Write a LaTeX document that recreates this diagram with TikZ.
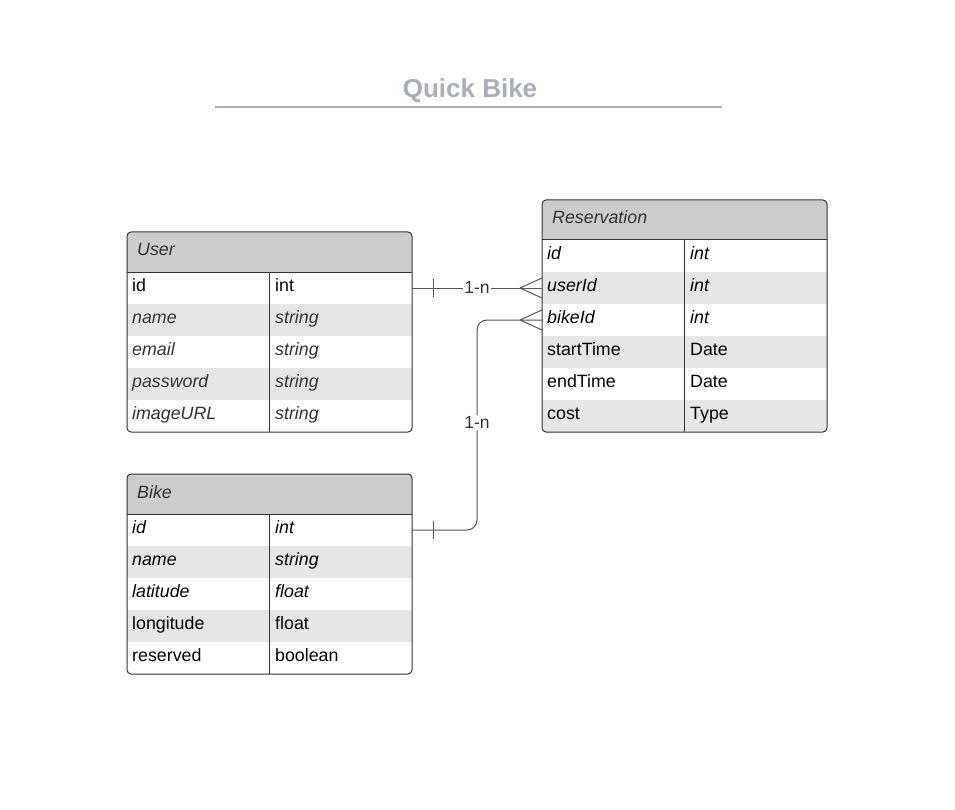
\documentclass[tikz,border=0pt]{standalone}
\usepackage{fontspec}
\setmainfont{Liberation Sans}
\usetikzlibrary{positioning}

\definecolor{headgray}{HTML}{CCCCCC}
\definecolor{rowgray}{HTML}{E6E6E6}
\definecolor{titlegray}{HTML}{A9AEB8}
\definecolor{softtext}{HTML}{333333}
\definecolor{wiregray}{HTML}{555555}

\tikzset{
	head/.style={minimum width=285pt, minimum height=40pt, inner sep=0pt, outer sep=0pt, fill=headgray},
	row/.style={minimum width=285pt, minimum height=32pt, inner sep=0pt, outer sep=0pt},
	field/.style={anchor=base west, inner sep=0pt, font=\fontsize{17.8}{20}\selectfont},
	plain/.style={text=black},
	ital/.style={text=black, font=\fontsize{17.8}{20}\selectfont\itshape},
	soft/.style={text=softtext, font=\fontsize{17.8}{20}\selectfont\itshape},
	entitytitle/.style={field, soft},
	border/.style={draw=softtext, line width=1pt},
	wire/.style={draw=wiregray, line width=1pt},
	card/.style={fill=white, inner sep=1.5pt, text=softtext, font=\fontsize{17.5}{20}\selectfont},
	maintitle/.style={anchor=base, inner sep=0pt, text=titlegray, font=\fontsize{26}{30}\selectfont\bfseries}
}

% name, x, y, title, rows (field/type/style/fill), number of rows
\newcommand{\erentity}[6]{%
	\begin{scope}
		\clip[rounded corners=4pt] (#2,#3) rectangle ++(285,40+32*#6);
		\node[head, anchor=north west] (#1) at (#2,#3) {};
		\foreach \f/\t/\s/\c [count=\i] in {#5} {
			\node[row, fill=\c, anchor=north west] (#1-\i) at (#2,#3+8+32*\i) {};
			\node[field, \s] (#1-\i-f) at (#2+5,#3+27+32*\i) {\f};
			\node[field, \s] (#1-\i-t) at (#2+148,#3+27+32*\i) {\t};
		}
	\end{scope}
	\node[entitytitle] (#1-title) at (#2+10,#3+24) {#4};
	\draw[border, rounded corners=4pt] (#2,#3) rectangle ++(285,40+32*#6);
	\draw[border] (#1.south west) -- (#1.south east);
	\draw[border] (#2+142,#3+40) -- ++(0,32*#6);
}

\begin{document}
\begin{tikzpicture}[x=1pt, y=-1pt]
	\fill[white] (0,0) rectangle (955,810);
	\useasboundingbox (0,0) rectangle (955,810);

	\node[maintitle] (title) at (470,98) {Quick Bike};
	\draw[titlegray, line width=2pt] (215,107) -- (722,107);

	\erentity{user}{127}{232}{User}{id/int/plain/white, name/string/soft/rowgray, email/string/soft/white, password/string/soft/rowgray, imageURL/string/soft/white}{5}
	\erentity{res}{542}{200}{Reservation}{id/int/ital/white, userId/int/ital/rowgray, bikeId/int/ital/white, startTime/Date/plain/rowgray, endTime/Date/plain/white, cost/Type/plain/rowgray}{6}
	\erentity{bike}{127}{474}{Bike}{id/int/ital/white, name/string/ital/rowgray, latitude/float/ital/white, longitude/float/plain/rowgray, reserved/boolean/plain/white}{5}

	% relations
	\draw[wire] (user-1.east) -- node[card, yshift=1pt] (card-user) {1-n} (res-2.west);
	\draw[wire, rounded corners=10pt] (bike-1.east) -- ++(65,0) |- node[card, pos=0.255] (card-bike) {1-n} (res-3.west);

	\foreach \a/\b in {user-1/res-2, bike-1/res-3} {
		\draw[wire] ([xshift=21pt]\a.east) ++(0,-9) -- ++(0,18);
		\draw[wire] ([xshift=-22pt]\b.west) -- ++(22,-10) ([xshift=-22pt]\b.west) -- ++(22,10);
	}
\end{tikzpicture}
\end{document}
